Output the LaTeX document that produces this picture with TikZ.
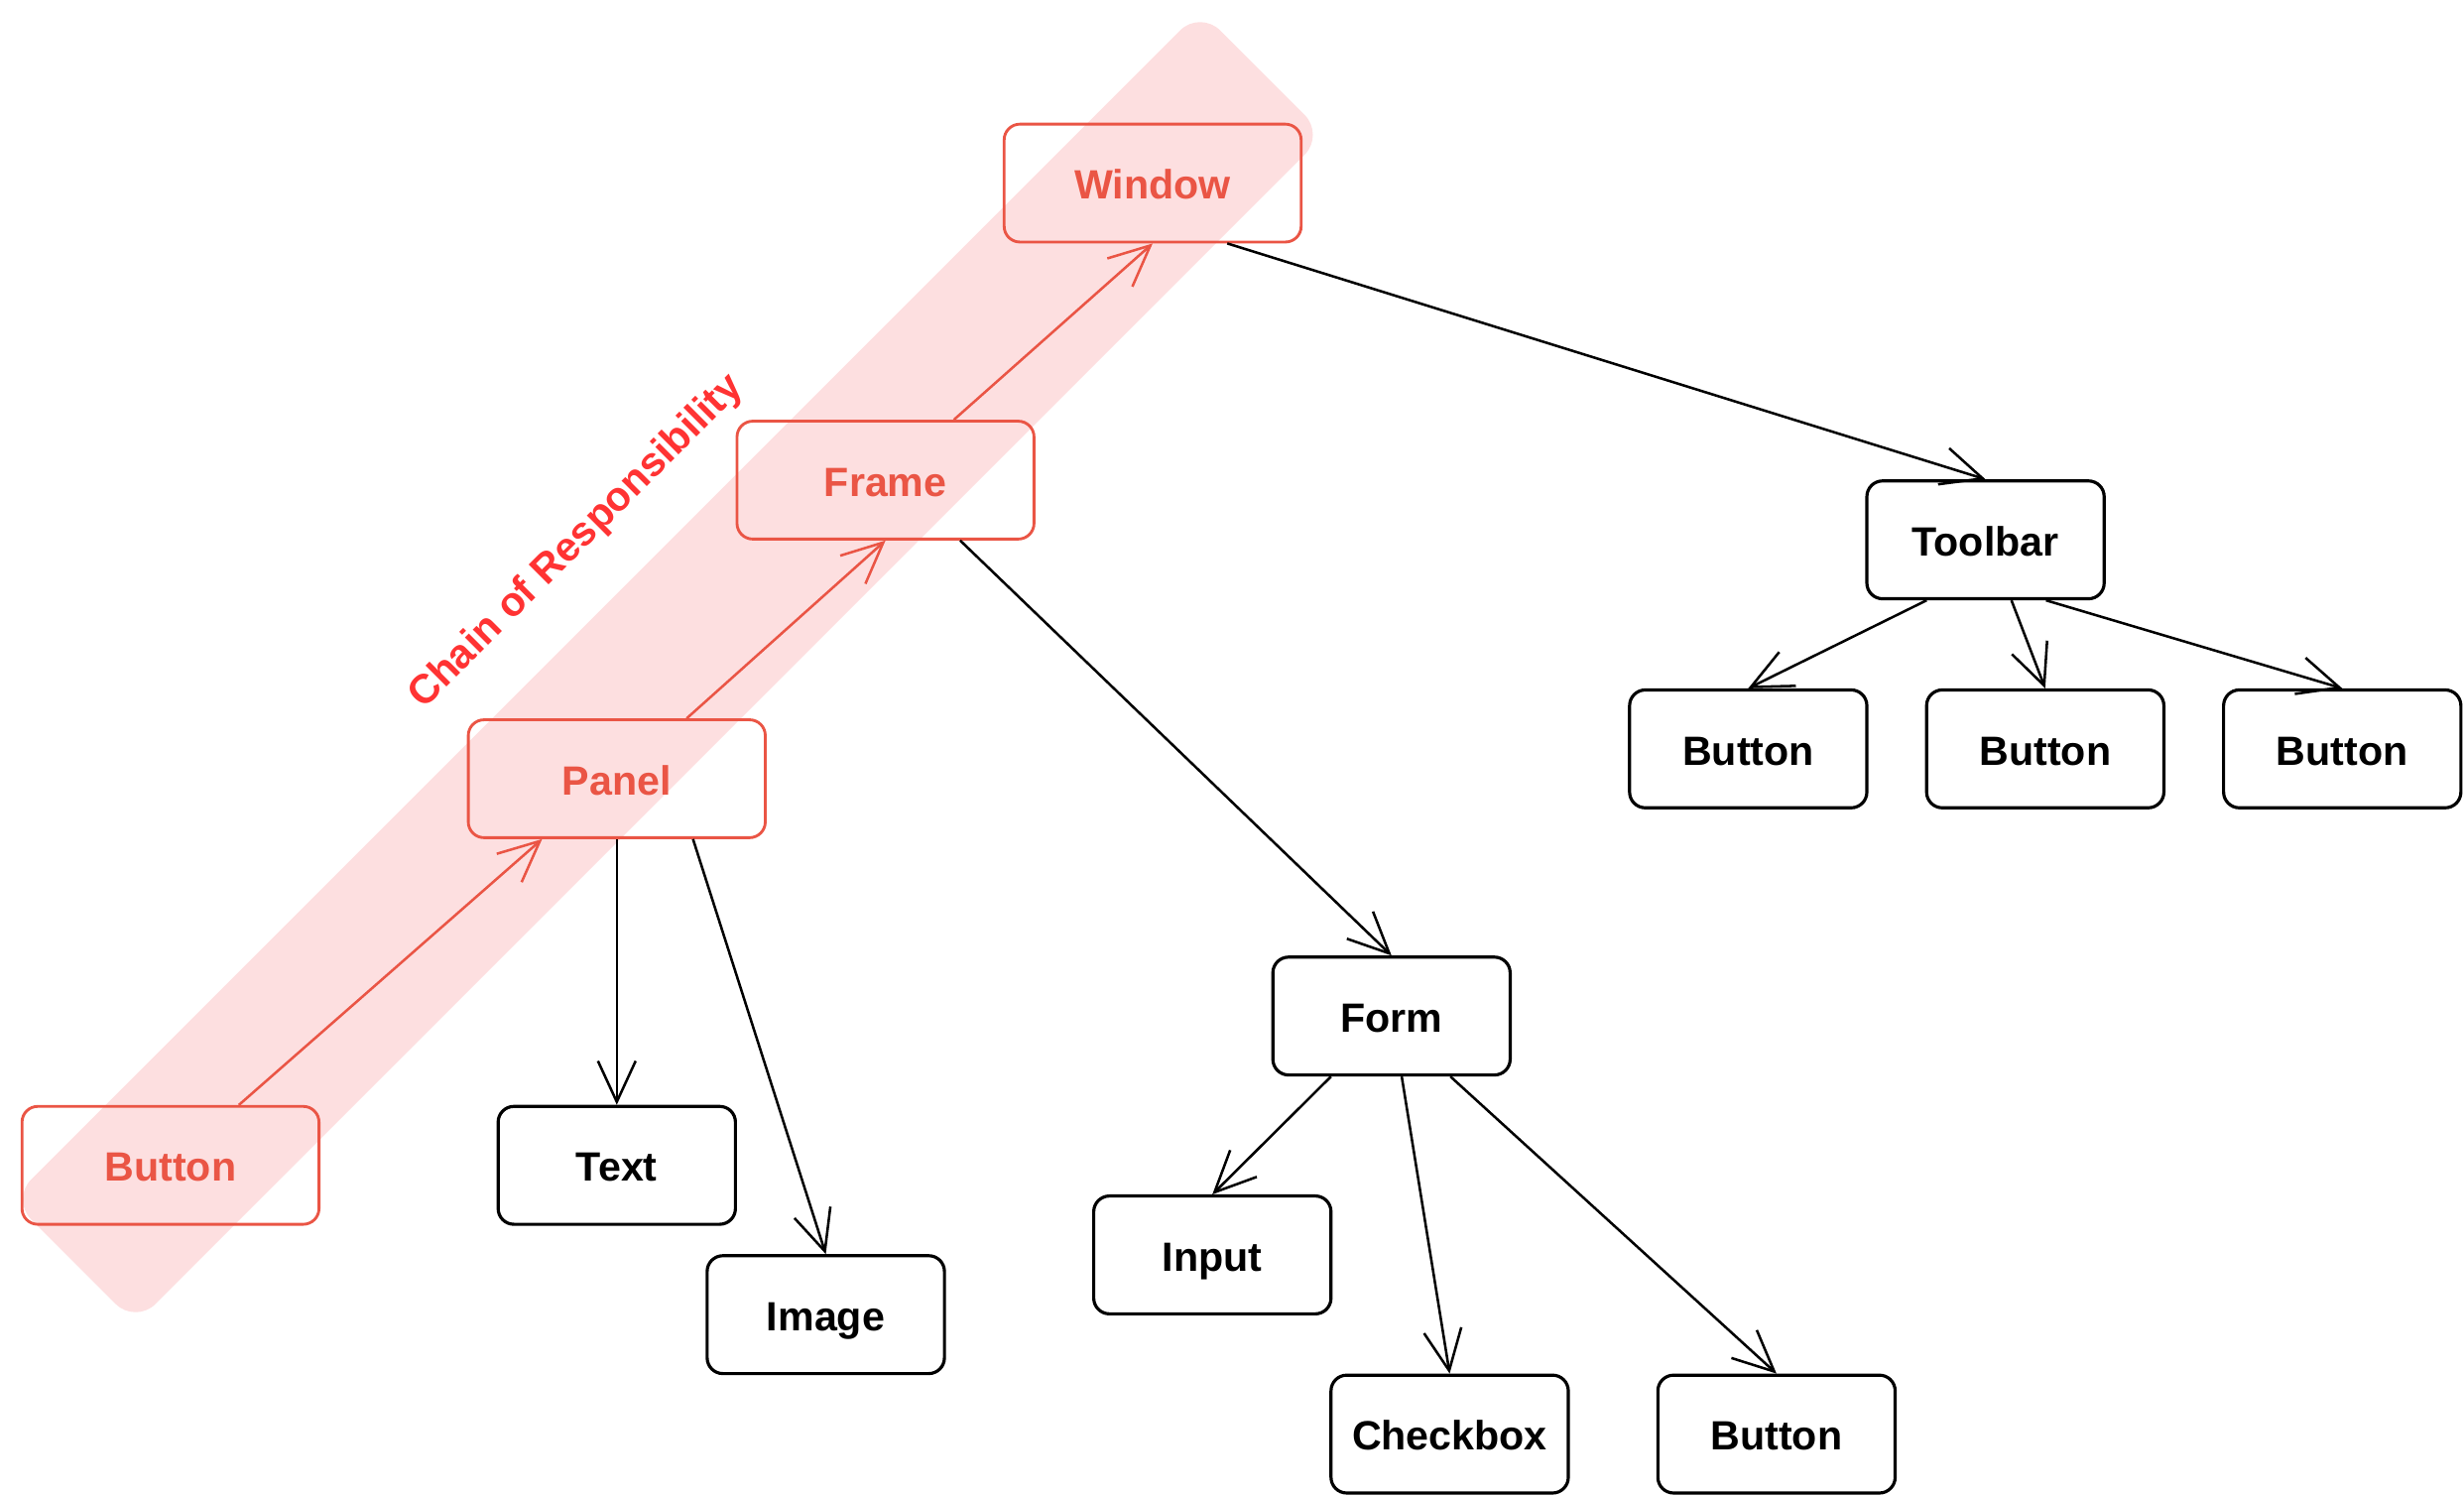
\documentclass[tikz,border=0pt]{standalone}
\usepackage{fontspec}
\setmainfont{Liberation Sans}
\usetikzlibrary{arrows.meta}
\definecolor{cred}{HTML}{EA5545}
\definecolor{cband}{HTML}{FDDFE0}
\definecolor{clabel}{HTML}{FF3333}
\tikzset{
  boxfont/.style={font=\fontsize{26}{30}\selectfont\bfseries, text height=20.5pt, text depth=0pt},
  redbox/.style={draw=cred, line width=1.8pt, rounded corners=10pt, minimum width=189pt, minimum height=75pt, text=cred, boxfont, inner sep=0pt},
  blackbox/.style={draw=black, line width=2pt, rounded corners=10pt, minimum width=151pt, minimum height=75pt, text=black, boxfont, inner sep=0pt},
  redarrow/.style={draw=cred, line width=1.6pt, -{Straight Barb[length=26pt,width=24pt]}},
  blackarrow/.style={draw=black, line width=1.6pt, -{Straight Barb[length=26pt,width=24pt]}},
}
\begin{document}
\begin{tikzpicture}[x=1pt,y=-1pt]
\useasboundingbox (0,0) rectangle (1568,952.5);
\node[name=band, rotate=45, fill=cband, rounded corners=18pt, minimum width=1070pt, minimum height=112pt, inner sep=0pt] at (425,424.5) {};
\node[name=label, rotate=45, text=clabel, font=\fontsize{26}{30}\selectfont\bfseries, inner sep=0pt] at (367,345) {Chain of Responsibility};

\node[redbox] (win) at (733.5,116.5) {Window};
\node[redbox] (frame) at (563.5,305.5) {Frame};
\node[redbox] (panel) at (392.5,495.5) {Panel};
\node[redbox] (rbtn) at (108.5,741.5) {Button};

\node[blackbox] (text) at (392.5,741.5) {Text};
\node[blackbox] (image) at (525.5,836.5) {Image};
\node[blackbox] (toolbar) at (1263.5,343.5) {Toolbar};
\node[blackbox] (b1) at (1112.5,476.5) {Button};
\node[blackbox] (b2) at (1301.5,476.5) {Button};
\node[blackbox] (b3) at (1490.5,476.5) {Button};
\node[blackbox] (form) at (885.5,646.5) {Form};
\node[blackbox] (input) at (771.5,798.5) {Input};
\node[blackbox] (check) at (922.5,912.5) {Checkbox};
\node[blackbox] (fbtn) at (1130.5,912.5) {Button};

\draw[redarrow] ([xshift=43.5pt]rbtn.north) -- ([xshift=-47.5pt]panel.south);
\draw[redarrow] ([xshift=44.5pt]panel.north) -- (frame.south);
\draw[redarrow] ([xshift=43.5pt]frame.north) -- (win.south);

\draw[blackarrow] ([xshift=47.5pt]win.south) -- (toolbar.north);
\draw[blackarrow] ([xshift=-37.5pt]toolbar.south) -- (b1.north);
\draw[blackarrow] ([xshift=16.5pt]toolbar.south) -- (b2.north);
\draw[blackarrow] ([xshift=38.5pt]toolbar.south) -- (b3.north);
\draw[blackarrow] ([xshift=47.5pt]frame.south) -- (form.north);
\draw[blackarrow] ([xshift=-38.5pt]form.south) -- (input.north);
\draw[blackarrow] ([xshift=6.5pt]form.south) -- (check.north);
\draw[blackarrow] ([xshift=37.5pt]form.south) -- (fbtn.north);
\draw[blackarrow] (panel.south) -- (text.north);
\draw[blackarrow] ([xshift=48.5pt]panel.south) -- (image.north);
\end{tikzpicture}
\end{document}
